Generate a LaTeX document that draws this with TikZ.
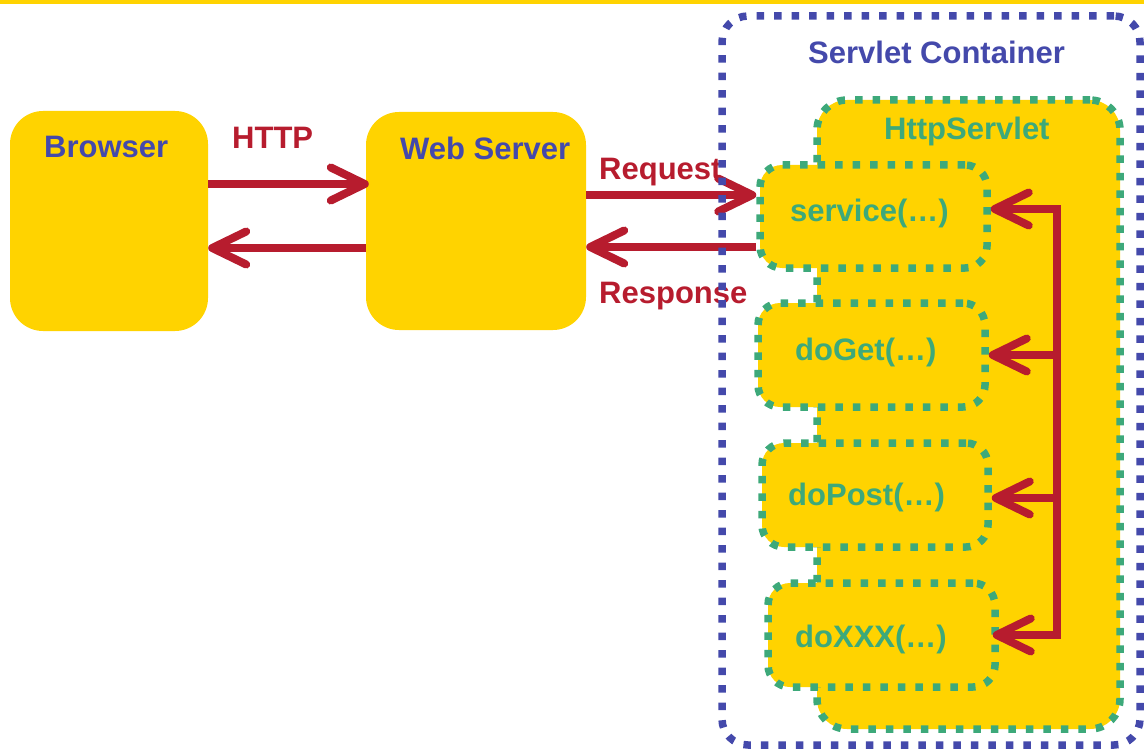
\documentclass[tikz,border=0pt]{standalone}
\usepackage{fontspec}
\setmainfont{Liberation Sans}
\usetikzlibrary{arrows.meta}

\definecolor{boxyellow}{HTML}{FFD300}
\definecolor{inkblue}{HTML}{4449AB}
\definecolor{inkred}{HTML}{B71C2E}
\definecolor{inkgreen}{HTML}{3DA97A}

\tikzset{
  panel/.style={rectangle, fill=boxyellow, rounded corners=33pt, inner sep=0pt},
  dotbox/.style={rectangle, fill=boxyellow, draw=inkgreen, line width=7.5pt,
    dash pattern=on 7.5pt off 10pt, rounded corners=#1, inner sep=0pt},
  dotbox/.default=22pt,
  frame/.style={rectangle, draw=inkblue, line width=7.5pt,
    dash pattern=on 7.5pt off 10pt, rounded corners=26pt, inner sep=0pt},
  txt/.style={inner sep=0pt, anchor=base west,
    font=\fontsize{31}{37}\selectfont\bfseries},
  bluetxt/.style={txt, text=inkblue},
  redtxt/.style={txt, text=inkred},
  greentxt/.style={txt, text=inkgreen},
  barb/.tip={Straight Barb[length=34pt, width=33pt, round]},
  wire/.style={draw=inkred, line width=8pt},
  arrowline/.style={wire, -barb},
}

\begin{document}
\begin{tikzpicture}[x=1pt, y=-1pt]
\useasboundingbox (0,0) rectangle (1144,749);

% top rule
\fill[boxyellow] (0,0) rectangle (1144,4.5);

% client side
\node[panel, minimum width=198pt, minimum height=220pt] (browser) at (109,221) {};
\node[bluetxt] (browserlbl) at (44,158) {Browser};

\node[panel, minimum width=220pt, minimum height=218pt] (server) at (476,221) {};
\node[bluetxt] (serverlbl) at (400,160) {Web Server};

% servlet class and its methods
\node[dotbox=30pt, minimum width=303pt, minimum height=629pt] (servlet) at (968.5,414.5) {};
\node[greentxt] (servletlbl) at (884,140) {HttpServlet};

\node[dotbox, minimum width=227pt, minimum height=103pt] (service) at (873.5,216.5) {};
\node[greentxt] (servicelbl) at (790,222) {service(…)};

\node[dotbox, minimum width=227pt, minimum height=104pt] (doget) at (871.5,355) {};
\node[greentxt] (dogetlbl) at (795,360) {doGet(…)};

\node[dotbox, minimum width=226pt, minimum height=104pt] (dopost) at (875,495) {};
\node[greentxt] (dopostlbl) at (788,505) {doPost(…)};

\node[dotbox, minimum width=227pt, minimum height=104pt] (doxxx) at (881.5,635) {};
\node[greentxt] (doxxxlbl) at (795,647) {doXXX(…)};

% levels of the horizontal connectors
\coordinate (yhttp) at (0,184);
\coordinate (yback) at (0,248);
\coordinate (yreq) at (0,195);
\coordinate (yresp) at (0,247);
\coordinate (bustop) at (1057,209);
\coordinate (busget) at (1057,355);
\coordinate (buspost) at (1057,498);
\coordinate (busbot) at (1057,635);
\coordinate (xxxtip) at ([xshift=-6pt]doxxx.east);

% browser <-> web server
\draw[arrowline, shorten >=-3pt] (browser.east |- yhttp) -- (server.west |- yhttp);
\draw[arrowline] (server.west |- yback) -- (browser.east |- yback);
\node[redtxt] (httplbl) at (232,149) {HTTP};

% web server <-> service
\draw[arrowline] (server.east |- yreq) -- (service.west |- yreq);
\draw[arrowline] (service.west |- yresp) -- (server.east |- yresp);
\node[redtxt] (reqlbl) at (599,180) {Request};
\node[redtxt] (resplbl) at (599,303) {Response};

% dispatch from service to the handler methods
\draw[wire, barb-barb, line join=miter]
  (service.east |- bustop) -- (bustop) -- (busbot) -- (xxxtip |- busbot);
\draw[arrowline] (busget) -- (doget.east |- busget);
\draw[arrowline] (buspost) -- (dopost.east |- buspost);

% container boundary
\node[frame, minimum width=418pt, minimum height=729pt] (container) at (931,380.5) {};
\node[bluetxt] (containerlbl) at (808,64) {Servlet Container};
\end{tikzpicture}
\end{document}
